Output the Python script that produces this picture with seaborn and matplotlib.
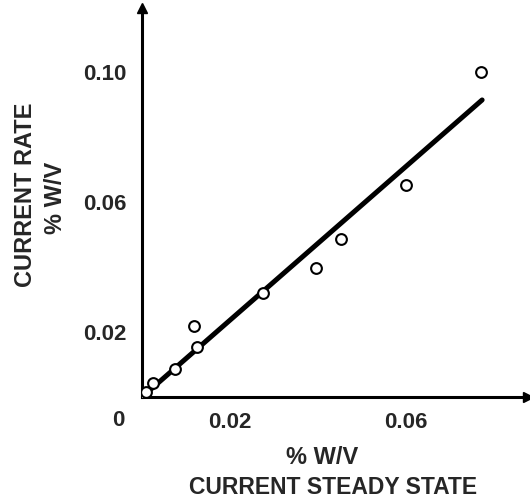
import matplotlib
matplotlib.use("Agg")
import matplotlib.pyplot as plt
import seaborn as sns
import numpy as np

# data
steady_state = [0.0, 0.001, 0.0025, 0.0075, 0.0118, 0.0125, 0.0275, 0.0395, 0.0452, 0.060, 0.077]
rate = [0.0, 0.0015, 0.0043, 0.0086, 0.0218, 0.0154, 0.032, 0.0397, 0.0486, 0.0652, 0.100]
fit_x = [0.0, 0.0773]
fit_y = [0.0, 0.0914]
x_ticks = [0.02, 0.04, 0.06, 0.08]
x_ticklabels = ["0.02", "", "0.06", ""]
y_ticks = [0.02, 0.04, 0.06, 0.08, 0.10]
y_ticklabels = ["0.02", "", "0.06", "", "0.10"]

sns.set_style("white")
plt.rcParams['font.family'] = ['Liberation Sans', 'DejaVu Sans']

W, H = 530, 498
fig = plt.figure(figsize=(W / 100, H / 100), dpi=100)
x0, y0 = 142, 397
xr, yr = 528, 8
ax = fig.add_axes([x0 / W, 1 - y0 / H, (xr - x0) / W, (y0 - yr) / H])

sns.lineplot(x=fit_x, y=fit_y, ax=ax, color="black", linewidth=3.6, zorder=2)
sns.scatterplot(x=steady_state, y=rate, ax=ax, s=60, facecolor="white",
                edgecolor="black", linewidth=1.5, zorder=3)

ax.set_xlim(0, (xr - x0) / 4400)
ax.set_ylim(0, (y0 - yr) / 3250)

for s in ["top", "right"]:
    ax.spines[s].set_visible(False)
for s in ["left", "bottom"]:
    ax.spines[s].set_linewidth(2.2)
    ax.spines[s].set_color("black")

ax.plot(1, 0, ">k", markersize=7, transform=ax.transAxes, clip_on=False)
ax.plot(0, 1, "^k", markersize=7, transform=ax.transAxes, clip_on=False)

ax.set_xticks(x_ticks)
ax.set_xticklabels(x_ticklabels)
ax.set_yticks(y_ticks)
ax.set_yticklabels(y_ticklabels)
ax.tick_params(direction="in", length=7, width=1.2, color="black",
               labelsize=16, pad=11)
for lab in ax.get_xticklabels() + ax.get_yticklabels():
    lab.set_fontweight("bold")

fig.text(118 / W, 1 - 420 / H, "0", fontsize=16, fontweight="bold",
         ha="center", va="center")
fig.text(322 / W, 1 - 457 / H, "% W/V", fontsize=17, fontweight="bold",
         ha="center", va="center")
fig.text(333 / W, 1 - 487 / H, "CURRENT STEADY STATE", fontsize=16.5,
         fontweight="bold", ha="center", va="center")
fig.text(25 / W, 1 - 195 / H, "CURRENT RATE", fontsize=17, fontweight="bold",
         ha="center", va="center", rotation=90)
fig.text(55 / W, 1 - 198 / H, "% W/V", fontsize=17, fontweight="bold",
         ha="center", va="center", rotation=90)

fig.savefig("out.png", dpi=100)
